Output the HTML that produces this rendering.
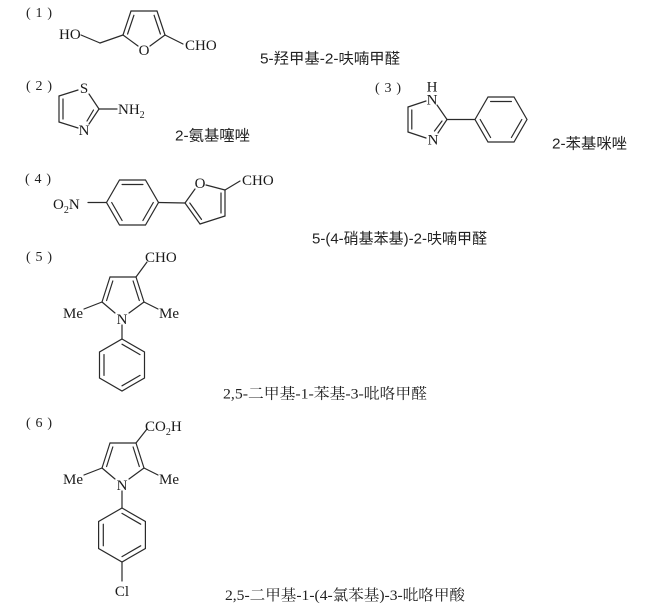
<!DOCTYPE html>
<html>
<head>
<meta charset="utf-8">
<style>
html,body{margin:0;padding:0;background:#fff;}
svg{display:block;}
.b{stroke:#2a2a2a;stroke-width:1.2;fill:none;stroke-linecap:round;}
.a{font-family:"Liberation Serif","Noto Serif CJK SC",serif;font-size:15px;fill:#1a1a1a;}
.s{font-size:10px;}
.l{font-family:"Liberation Serif","Noto Serif CJK SC",serif;font-size:14px;fill:#222;}
.ns{font-family:"Liberation Sans","Noto Sans CJK SC",sans-serif;font-size:15px;fill:#222;}
.nr{font-family:"Liberation Serif","Noto Serif CJK SC",serif;font-size:15px;fill:#222;}
</style>
</head>
<body>
<svg width="667" height="616" viewBox="0 0 667 616" xmlns="http://www.w3.org/2000/svg">
<rect width="667" height="616" fill="#fff"/>

<!-- labels (n) -->
<g class="l">
<text x="26" y="17">(</text><text x="39" y="17" text-anchor="middle">1</text><text x="52" y="17" text-anchor="end">)</text>
<text x="26" y="90">(</text><text x="39" y="90" text-anchor="middle">2</text><text x="52" y="90" text-anchor="end">)</text>
<text x="375" y="92">(</text><text x="388" y="92" text-anchor="middle">3</text><text x="401" y="92" text-anchor="end">)</text>
<text x="25" y="183">(</text><text x="38" y="183" text-anchor="middle">4</text><text x="51" y="183" text-anchor="end">)</text>
<text x="26" y="261">(</text><text x="39" y="261" text-anchor="middle">5</text><text x="52" y="261" text-anchor="end">)</text>
<text x="26" y="427">(</text><text x="39" y="427" text-anchor="middle">6</text><text x="52" y="427" text-anchor="end">)</text>
</g>

<!-- Molecule 1 -->
<g class="b">
<line x1="81" y1="35" x2="100" y2="43"/>
<line x1="100" y1="43" x2="123" y2="35"/>
<line x1="123" y1="35" x2="131" y2="11"/>
<line x1="131" y1="11" x2="157" y2="11"/>
<line x1="157" y1="11" x2="165" y2="35"/>
<line x1="165" y1="35" x2="150" y2="46"/>
<line x1="138" y1="46" x2="123" y2="35"/>
<line x1="127.6" y1="34" x2="133.9" y2="15.3"/>
<line x1="154.1" y1="15.3" x2="160.4" y2="34"/>
<line x1="165" y1="35" x2="183" y2="44"/>
</g>
<text class="a" x="59" y="39">HO</text>
<text class="a" x="144" y="55" text-anchor="middle">O</text>
<text class="a" x="185" y="50">CHO</text>
<text class="ns" x="260" y="63.5" textLength="140" lengthAdjust="spacingAndGlyphs">5-羟甲基-2-呋喃甲醛</text>

<!-- Molecule 2 -->
<g class="b">
<line x1="78" y1="90" x2="59" y2="96"/>
<line x1="89" y1="94" x2="99" y2="109"/>
<line x1="99" y1="109" x2="89" y2="124"/>
<line x1="78" y1="128" x2="59" y2="122"/>
<line x1="59" y1="122" x2="59" y2="96"/>
<line x1="63" y1="99" x2="63" y2="119"/>
<line x1="93.5" y1="110" x2="87" y2="121"/>
<line x1="99" y1="109" x2="117" y2="109"/>
</g>
<text class="a" x="84" y="93" text-anchor="middle">S</text>
<text class="a" x="84" y="135" text-anchor="middle">N</text>
<text class="a" x="118" y="114">NH<tspan class="s" dy="4">2</tspan></text>
<text class="ns" x="175" y="140.5" textLength="75" lengthAdjust="spacingAndGlyphs">2-氨基噻唑</text>

<!-- Molecule 3 -->
<g class="b">
<line x1="426" y1="101" x2="408" y2="107"/>
<line x1="437" y1="105" x2="447" y2="119.5"/>
<line x1="447" y1="119.5" x2="438" y2="133"/>
<line x1="426" y1="138" x2="408" y2="132"/>
<line x1="408" y1="132" x2="408" y2="107"/>
<line x1="411.8" y1="110" x2="411.8" y2="129"/>
<line x1="442" y1="121" x2="434.5" y2="131"/>
<line x1="447" y1="119.5" x2="475" y2="119.5"/>
<polygon points="475,119.5 488,97 514,97 527,119.5 514,142 488,142"/>
<line x1="490.6" y1="101.5" x2="511.4" y2="101.5"/>
<line x1="521.8" y1="119.5" x2="511.4" y2="137.5"/>
<line x1="490.6" y1="137.5" x2="480.2" y2="119.5"/>
</g>
<text class="a" x="432" y="91.5" text-anchor="middle">H</text>
<text class="a" x="432" y="104.5" text-anchor="middle">N</text>
<text class="a" x="433" y="144.5" text-anchor="middle">N</text>
<text class="ns" x="552" y="148.5" textLength="75" lengthAdjust="spacingAndGlyphs">2-苯基咪唑</text>

<!-- Molecule 4 -->
<g class="b">
<line x1="88" y1="202.5" x2="106.5" y2="202.5"/>
<polygon points="106.5,202.5 119.5,180 145.5,180 158.5,202.5 145.5,225 119.5,225"/>
<line x1="122.1" y1="184.5" x2="142.9" y2="184.5"/>
<line x1="153.3" y1="202.5" x2="142.9" y2="220.5"/>
<line x1="122.1" y1="220.5" x2="111.7" y2="202.5"/>
<line x1="158.5" y1="202.5" x2="185" y2="203"/>
<line x1="185" y1="203" x2="195" y2="189"/>
<line x1="206" y1="185" x2="225" y2="190"/>
<line x1="225" y1="190" x2="225" y2="216"/>
<line x1="225" y1="216" x2="200" y2="224"/>
<line x1="200" y1="224" x2="185" y2="203"/>
<line x1="189.8" y1="203" x2="201.5" y2="219.4"/>
<line x1="221" y1="193" x2="221" y2="213"/>
<line x1="225" y1="190" x2="240" y2="181"/>
</g>
<text class="a" x="53" y="209">O<tspan class="s" dy="4">2</tspan><tspan dy="-4">N</tspan></text>
<text class="a" x="200" y="188" text-anchor="middle">O</text>
<text class="a" x="242" y="185">CHO</text>
<text class="ns" x="312" y="243.5" textLength="175" lengthAdjust="spacingAndGlyphs">5-(4-硝基苯基)-2-呋喃甲醛</text>

<!-- Molecule 5 -->
<g class="b">
<line x1="110" y1="277" x2="136" y2="277"/>
<line x1="136" y1="277" x2="144" y2="302"/>
<line x1="144" y1="302" x2="129" y2="313"/>
<line x1="115" y1="313" x2="102" y2="302"/>
<line x1="102" y1="302" x2="110" y2="277"/>
<line x1="112.8" y1="281" x2="106.6" y2="300.5"/>
<line x1="133.1" y1="281" x2="139.3" y2="300.5"/>
<line x1="136" y1="277" x2="147" y2="262"/>
<line x1="102" y1="302" x2="84" y2="309"/>
<line x1="144" y1="302" x2="158" y2="309"/>
<line x1="122" y1="325" x2="122" y2="339"/>
<polygon points="122,339 144.5,352 144.5,378 122,391 99.5,378 99.5,352"/>
<line x1="122" y1="344.2" x2="140" y2="354.6"/>
<line x1="140" y1="375.4" x2="122" y2="385.8"/>
<line x1="104" y1="375.4" x2="104" y2="354.6"/>
</g>
<text class="a" x="145" y="262">CHO</text>
<text class="a" x="83" y="318" text-anchor="end">Me</text>
<text class="a" x="159" y="318">Me</text>
<text class="a" x="122" y="324" text-anchor="middle">N</text>
<text class="nr" x="223" y="398.5" textLength="204" lengthAdjust="spacingAndGlyphs">2,5-二甲基-1-苯基-3-吡咯甲醛</text>

<!-- Molecule 6 -->
<g class="b">
<line x1="110" y1="443" x2="136" y2="443"/>
<line x1="136" y1="443" x2="144" y2="468"/>
<line x1="144" y1="468" x2="129" y2="479"/>
<line x1="115" y1="479" x2="102" y2="468"/>
<line x1="102" y1="468" x2="110" y2="443"/>
<line x1="112.8" y1="447" x2="106.6" y2="466.5"/>
<line x1="133.1" y1="447" x2="139.3" y2="466.5"/>
<line x1="136" y1="443" x2="147" y2="429"/>
<line x1="102" y1="468" x2="84" y2="475"/>
<line x1="144" y1="468" x2="158" y2="475"/>
<line x1="122" y1="491" x2="122" y2="508"/>
<polygon points="122,508 145.4,521.5 145.4,548.5 122,562 98.6,548.5 98.6,521.5"/>
<line x1="122" y1="513.4" x2="140.7" y2="524.2"/>
<line x1="140.7" y1="545.8" x2="122" y2="556.6"/>
<line x1="103.3" y1="545.8" x2="103.3" y2="524.2"/>
<line x1="122" y1="562" x2="122" y2="581"/>
</g>
<text class="a" x="145" y="431">CO<tspan class="s" dy="4">2</tspan><tspan dy="-4">H</tspan></text>
<text class="a" x="83" y="484" text-anchor="end">Me</text>
<text class="a" x="159" y="484">Me</text>
<text class="a" x="122" y="490" text-anchor="middle">N</text>
<text class="a" x="122" y="596" text-anchor="middle">Cl</text>
<text class="nr" x="225" y="600" textLength="240" lengthAdjust="spacingAndGlyphs">2,5-二甲基-1-(4-氯苯基)-3-吡咯甲酸</text>

</svg>
</body>
</html>
